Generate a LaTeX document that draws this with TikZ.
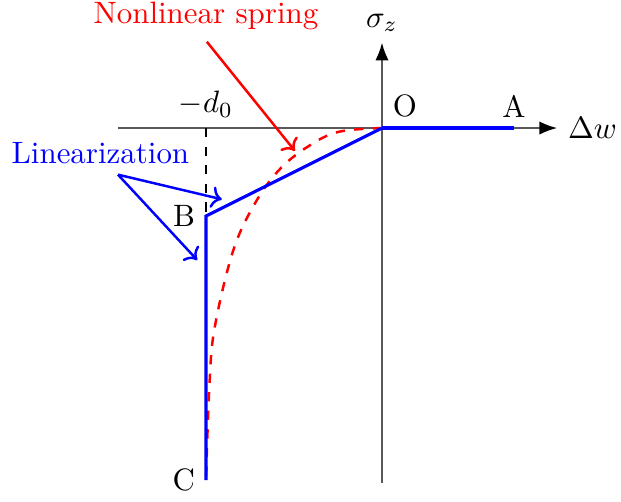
\documentclass[tikz,border=0pt]{standalone}
\usepackage{tikz}
\usetikzlibrary{arrows.meta, positioning}
\colorlet{axiscol}{black!65}

\begin{document}
\begin{tikzpicture}[
      axis/.style   = {draw=axiscol, semithick, -{Latex[black]}},
      lin/.style    = {draw=blue, line width=1pt},
      spring/.style = {draw=red, thick, dashed},
      note/.style   = {->, thick}
    ]
    \useasboundingbox (-4.341,-4.239) rectangle (2.716,1.455);

    % axes
    \coordinate (O)    at (0,0);
    \coordinate (xmin) at (-3,0);
    \coordinate (xmax) at (1.99,0);
    \coordinate (ymin) at (0,-4.03);
    \coordinate (ymax) at (0,0.97);
    \draw[axis] (xmin) -- (xmax);
    \draw[axis] (ymin) -- (ymax);
    \node[right] (dw)  at (xmax) {$\Delta w$};
    \node[above] (sig) at (ymax) {$\sigma_z$};

    % points
    \coordinate (A)  at (1.5,0);
    \coordinate (B)  at (-2,-1);
    \coordinate (C)  at (-2,-4);
    \coordinate (d0) at (-2,0);
    \node[above right] (lO) at (O)  {O};
    \node[above]       (lA) at (A)  {A};
    \node[left]        (lB) at (B)  {B};
    \node[left]        (lC) at (C)  {C};
    \node[above]       (ld) at (d0) {$-d_0$};
    \draw[dashed, thin] (d0) -- (B);

    % nonlinear spring and its linearization
    \draw[spring] plot[smooth, tension=0.6] coordinates {(0,0) (-0.5,-0.045)
        (-0.85,-0.216) (-1.17,-0.477) (-1.44,-0.85) (-1.69,-1.39)
        (-1.9,-2.26) (-1.96,-2.9) (-2,-4)};
    \draw[lin] (O) -- (A);
    \draw[lin] (O) -- (B) -- (C);

    % annotations
    \node[red]  (nls) at (-2.0,1.27)  {Nonlinear spring};
    \node[blue] (lz)  at (-3.2,-0.28) {Linearization};
    \coordinate (nlsfrom) at (-1.99,0.98);
    \coordinate (nlsto)   at (-0.99,-0.26);
    \coordinate (lzfrom)  at (-3.0,-0.53);
    \coordinate (lzto1)   at (-1.82,-0.81);
    \coordinate (lzto2)   at (-2.10,-1.5);
    \draw[note, red]  (nlsfrom) -- (nlsto);
    \draw[note, blue] (lzfrom) -- (lzto1);
    \draw[note, blue] (lzfrom) -- (lzto2);
  \end{tikzpicture}
\end{document}
